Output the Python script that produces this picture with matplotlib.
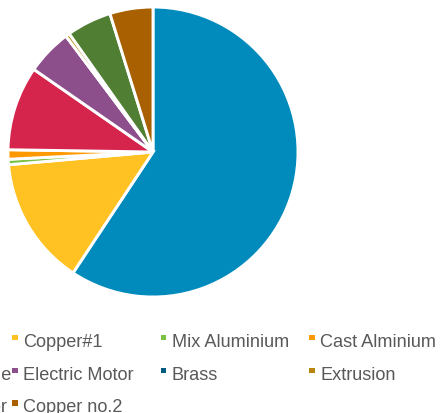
import matplotlib
matplotlib.use("Agg")
import matplotlib.pyplot as plt
from matplotlib.patches import Rectangle

labels = ["Steel Scrap", "Copper#1", "Mix Aluminium", "Cast Alminium",
          "Aluminium Cable", "Electric Motor", "Brass", "Extrusion",
          "Copper Radiator", "Copper no.2"]
values = [59.3, 14.3, 0.6, 1.05, 9.4, 5.1, 0.0, 0.45, 5.0, 4.8]
colors = ["#008BBC", "#FFC222", "#7AC143", "#FF9900", "#D6254D",
          "#8D4F8C", "#005B7F", "#B8860B", "#507E32", "#A86000"]

W, H = 441, 414
fig = plt.figure(figsize=(W / 100, H / 100), dpi=100)

cx, cy, r = 153, 153, 145
ax = fig.add_axes([(cx - r) / W, 1 - (cy + r) / H, 2 * r / W, 2 * r / H])
ax.pie(values, colors=colors, startangle=90, counterclock=False,
       wedgeprops=dict(edgecolor="white", linewidth=2.1))
ax.set_xlim(-1, 1)
ax.set_ylim(-1, 1)
ax.set_aspect("equal")
ax.axis("off")

# legend (4 columns, first column partly outside the figure)
col_x0 = 15 - 148.6   # marker center of first column (px)
col_dx = 148.6
row_base0 = 347.3
row_dy = 32.6
s = 5.5
for i, (lab, col) in enumerate(zip(labels, colors)):
    c, rw = i % 4, i // 4
    mx = col_x0 + c * col_dx
    base = row_base0 + rw * row_dy
    my = base - 8.6
    fig.add_artist(Rectangle(((mx - s / 2) / W, 1 - (my + s / 2) / H), s / W, s / H,
                             transform=fig.transFigure, facecolor=col, edgecolor="none"))
    fig.text((mx + 8) / W, 1 - base / H, lab, fontsize=13.1,
             family="Liberation Sans", color="#595959", va="baseline", ha="left")

fig.savefig("out.png", dpi=100)
